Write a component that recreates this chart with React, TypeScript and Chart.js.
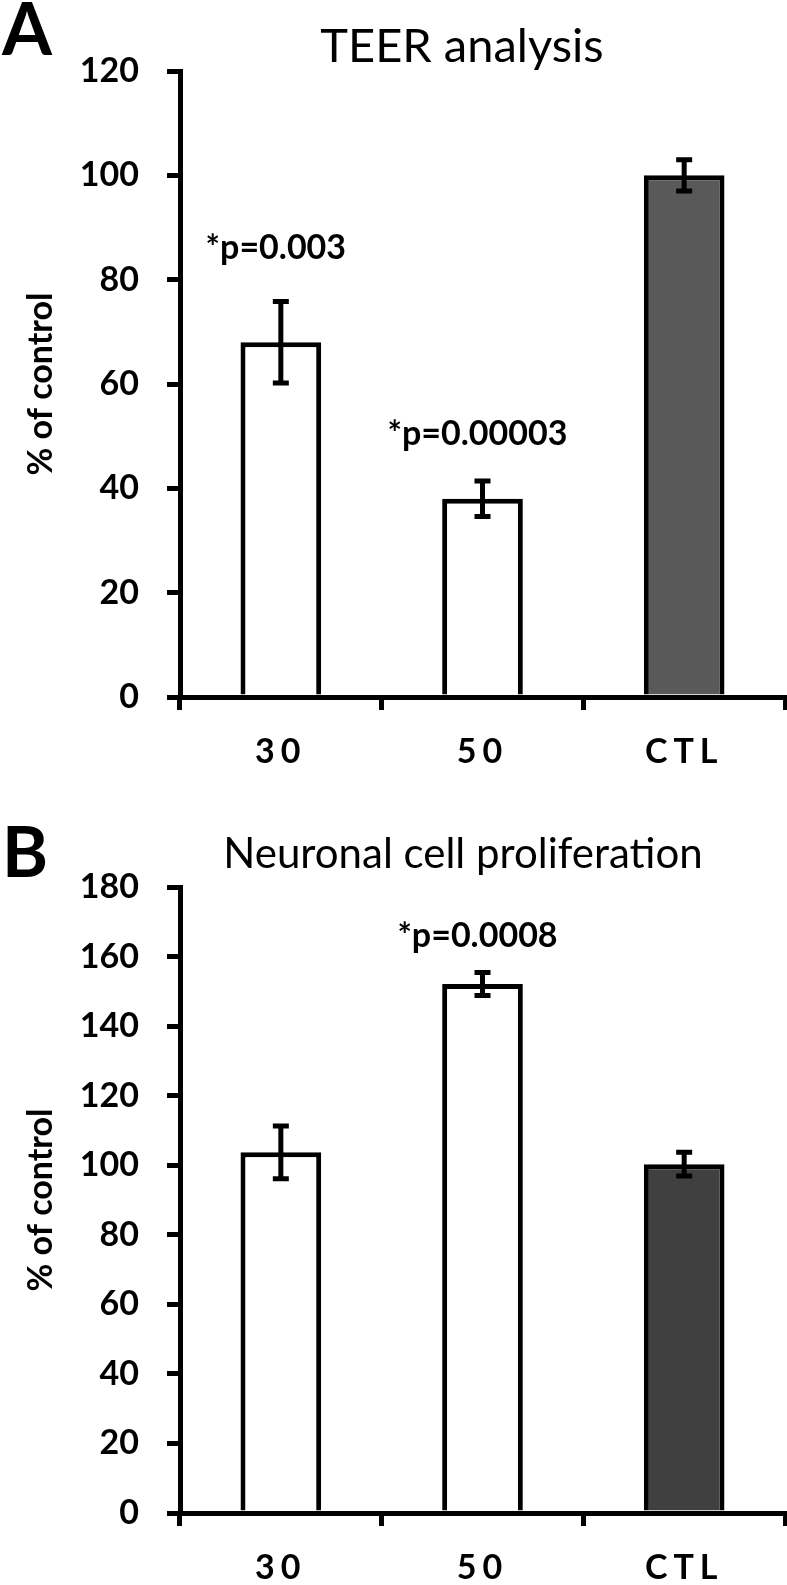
import React, { useEffect, useRef } from 'react';
import { Chart, registerables } from 'chart.js';

Chart.register(...registerables);

// ---------- data ----------
const categories = ['30', '50', 'CTL'];

const teerValues = [68, 38, 100];
const teerErrors = [7.8, 3.4, 3.0];
const teerPLabels = ['*p=0.003', '*p=0.00003', ''];
const teerPLabelAt = [84, 48.3, 0];
const teerColors = ['#ffffff', '#ffffff', '#595959'];

const prolifValues = [103.7, 152.1, 100.3];
const prolifErrors = [7.6, 3.3, 3.4];
const prolifPLabels = ['', '*p=0.0008', ''];
const prolifPLabelAt = [0, 162.7, 0];
const prolifColors = ['#ffffff', '#ffffff', '#404040'];

const FONT = 'Lato';

type Panel = {
  letter: string;
  title: string;
  titleSize: number;
  letterSize: number;
  letterBaseline: number;
  titleBaseline: number;
  titleCenter: number;
  values: number[];
  errors: number[];
  colors: string[];
  pLabels: string[];
  pLabelAt: number[];
  yMax: number;
  padTop: number;
  xHeight: number;
};

function makeChart(canvas: HTMLCanvasElement, p: Panel) {
  const tickFont = { family: FONT, weight: 'bold' as const, size: 34 };

  const errorBars = {
    id: 'errorBars',
    afterDatasetsDraw(chart: any) {
      const ctx = chart.ctx;
      const yScale = chart.scales.y;
      const meta = chart.getDatasetMeta(0);
      ctx.save();
      ctx.strokeStyle = '#000';
      ctx.lineWidth = 5;
      ctx.lineCap = 'butt';
      meta.data.forEach((el: any, i: number) => {
        const v = p.values[i];
        const e = p.errors[i];
        const yT = yScale.getPixelForValue(v + e);
        const yB = yScale.getPixelForValue(v - e);
        const x = el.x;
        ctx.beginPath();
        ctx.moveTo(x, yT);
        ctx.lineTo(x, yB);
        ctx.moveTo(x - 8, yT);
        ctx.lineTo(x + 8, yT);
        ctx.moveTo(x - 8, yB);
        ctx.lineTo(x + 8, yB);
        ctx.stroke();
      });
      // p-value annotations
      ctx.fillStyle = '#000';
      ctx.font = `bold 34px ${FONT}`;
      ctx.textAlign = 'center';
      ctx.textBaseline = 'alphabetic';
      meta.data.forEach((el: any, i: number) => {
        const t = p.pLabels[i];
        if (!t) return;
        ctx.fillText(t, el.x - 5, yScale.getPixelForValue(p.pLabelAt[i]));
      });
      ctx.restore();
    },
  };

  const headings = {
    id: 'headings',
    afterDraw(chart: any) {
      const ctx = chart.ctx;
      ctx.save();
      ctx.fillStyle = '#000';
      ctx.textBaseline = 'alphabetic';
      ctx.textAlign = 'left';
      ctx.font = `bold ${p.letterSize}px ${FONT}`;
      ctx.fillText(p.letter, 2, p.letterBaseline);
      ctx.textAlign = 'center';
      ctx.font = `${p.titleSize}px ${FONT}`;
      ctx.fillText(p.title, p.titleCenter, p.titleBaseline);
      ctx.restore();
    },
  };

  return new Chart(canvas, {
    type: 'bar',
    data: {
      labels: categories,
      datasets: [
        {
          data: p.values,
          backgroundColor: p.colors,
          borderColor: '#000',
          borderWidth: 5,
          borderSkipped: 'start',
          barPercentage: 0.4,
          categoryPercentage: 1.0,
        },
      ],
    },
    options: {
      animation: false,
      responsive: false,
      devicePixelRatio: 1,
      layout: { padding: { top: p.padTop, right: 2, bottom: 0, left: 0 } },
      plugins: { legend: { display: false }, tooltip: { enabled: false }, title: { display: false } },
      scales: {
        x: {
          offset: true,
          grid: {
            offset: true,
            drawOnChartArea: false,
            drawTicks: true,
            tickLength: 13,
            lineWidth: 5,
            color: '#000',
          },
          border: { display: true, color: '#000', width: 5 },
          ticks: { padding: 22, color: '#000', font: tickFont },
          afterFit: (scale: any) => {
            scale.height = p.xHeight;
            if (!scale.__ls) {
              const orig = scale.drawLabels.bind(scale);
              scale.drawLabels = (area: any) => {
                const c = scale.ctx;
                c.save();
                c.letterSpacing = '6px';
                orig(area);
                c.restore();
              };
              scale.__ls = true;
            }
          },
        },
        y: {
          min: 0,
          max: p.yMax,
          ticks: { stepSize: 20, padding: 28, color: '#000', font: tickFont },
          grid: {
            drawOnChartArea: false,
            drawTicks: true,
            tickLength: 13,
            lineWidth: 5,
            color: '#000',
          },
          border: { display: true, color: '#000', width: 5 },
          title: {
            display: true,
            text: '% of control',
            color: '#000',
            font: tickFont,
            padding: { top: 21, bottom: 0 },
          },
          afterFit: (scale: any) => {
            scale.width = 180;
          },
        },
      },
    },
    plugins: [errorBars, headings],
  } as any);
}

const panelA: Panel = {
  letter: 'A',
  title: 'TEER analysis',
  titleSize: 47,
  letterSize: 72,
  letterBaseline: 55,
  titleBaseline: 62,
  titleCenter: 462,
  values: teerValues,
  errors: teerErrors,
  colors: teerColors,
  pLabels: teerPLabels,
  pLabelAt: teerPLabelAt,
  yMax: 120,
  padTop: 71,
  xHeight: 70,
};

const panelB: Panel = {
  letter: 'B',
  title: 'Neuronal cell proliferation',
  titleSize: 42,
  letterSize: 70,
  letterBaseline: 110,
  titleBaseline: 101,
  titleCenter: 463,
  values: prolifValues,
  errors: prolifErrors,
  colors: prolifColors,
  pLabels: prolifPLabels,
  pLabelAt: prolifPLabelAt,
  yMax: 180,
  padTop: 120,
  xHeight: 72,
};

export default function App() {
  const refA = useRef<HTMLCanvasElement | null>(null);
  const refB = useRef<HTMLCanvasElement | null>(null);

  useEffect(() => {
    Chart.defaults.font.family = FONT;
    const a = makeChart(refA.current as HTMLCanvasElement, panelA);
    const b = makeChart(refB.current as HTMLCanvasElement, panelB);
    return () => {
      a.destroy();
      b.destroy();
    };
  }, []);

  return (
    <div
      style={{
        position: 'absolute',
        left: 0,
        top: 0,
        width: 787,
        height: 1585,
        overflow: 'hidden',
        background: '#fff',
      }}
    >
      <canvas ref={refA} width={787} height={767} style={{ display: 'block', width: 787, height: 767 }} />
      <canvas ref={refB} width={787} height={818} style={{ display: 'block', width: 787, height: 818 }} />
    </div>
  );
}
